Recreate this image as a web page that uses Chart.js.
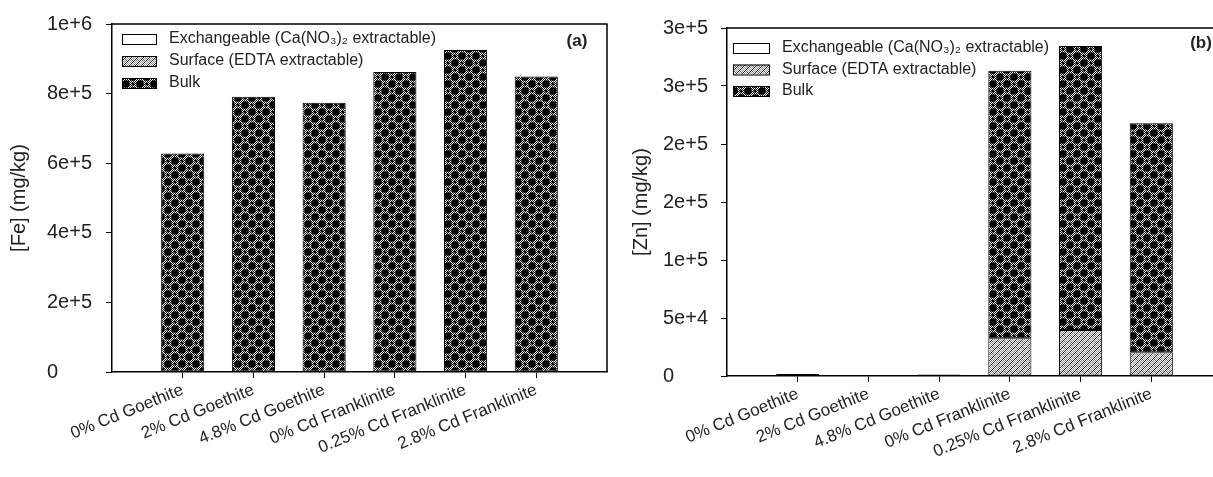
<!DOCTYPE html>
<html>
<head>
<meta charset="utf-8">
<script src="https://cdn.jsdelivr.net/npm/chart.js@4.4.1/dist/chart.umd.min.js"></script>
<style>
  html, body { margin: 0; padding: 0; background: #fff; overflow: hidden; }
  #wrap { position: relative; width: 1213px; height: 477px; overflow: hidden; }
  .panel { position: absolute; top: 0; }
  #panelA { left: 0; }
  #panelB { left: 615px; }
</style>
</head>
<body>
<div id="wrap">
  <div class="panel" id="panelA"><canvas id="chartFe" width="620" height="477"></canvas></div>
  <div class="panel" id="panelB"><canvas id="chartZn" width="620" height="477"></canvas></div>
</div>
<script>
// Categories and series
const categories = ['0% Cd Goethite', '2% Cd Goethite', '4.8% Cd Goethite',
  '0% Cd Franklinite', '0.25% Cd Franklinite', '2.8% Cd Franklinite'];
const seriesNames = ['Exchangeable (Ca(NO₃)₂ extractable)', 'Surface (EDTA extractable)', 'Bulk'];

// [Fe] (mg/kg)
const feExchangeable = [0, 0, 0, 0, 0, 0];
const feSurface = [0, 0, 0, 0, 0, 0];
const feBulk = [628000, 791000, 774000, 862000, 925000, 849000];
const feTicks = [0, 200000, 400000, 600000, 800000, 1000000];

// [Zn] (mg/kg)
const znExchangeable = [0, 0, 0, 0, 0, 0];
const znSurface = [0, 0, 0, 32500, 39700, 20400];
const znBulk = [1800, 0, 1300, 230700, 244800, 197400];
const znTicks = [0, 50000, 100000, 150000, 200000, 250000, 300000];

const FONT = '"Liberation Sans", Arial, sans-serif';

// Fill patterns (SigmaPlot style)
function checker(g, w, h, light, dark) {
  for (let y = 0; y < h; y++) {
    for (let x = 0; x < w; x++) {
      g.fillStyle = (x + y) % 2 ? light : dark;
      g.fillRect(x, y, 1, 1);
    }
  }
}

function makeBulkPattern() {
  const c = document.createElement('canvas');
  c.width = 14; c.height = 14;
  const g = c.getContext('2d');
  checker(g, 14, 14, '#ffffff', '#111111');
  g.fillStyle = '#000';
  [[0, 0], [14, 0], [0, 14], [14, 14], [7, 7]].forEach(p => {
    g.beginPath(); g.arc(p[0], p[1], 3.8, 0, Math.PI * 2); g.fill();
  });
  [[7, 0], [0, 7], [14, 7], [7, 14]].forEach(p => {
    g.beginPath(); g.arc(p[0], p[1], 1.5, 0, Math.PI * 2); g.fill();
  });
  return g.createPattern(c, 'repeat');
}

function makeSurfacePattern() {
  const c = document.createElement('canvas');
  c.width = 6; c.height = 6;
  const g = c.getContext('2d');
  checker(g, 6, 6, '#ffffff', '#222222');
  g.strokeStyle = '#ffffff';
  g.lineWidth = 1.4;
  [-6, 0, 6].forEach(o => {
    g.beginPath(); g.moveTo(o, 6); g.lineTo(o + 6, 0); g.stroke();
  });
  return g.createPattern(c, 'repeat');
}

const fills = ['#ffffff', makeSurfacePattern(), makeBulkPattern()];

// Frame, y title, legend and panel tag
const decor = {
  id: 'decor',
  afterDraw(chart, args, opts) {
    const ctx = chart.ctx;
    const a = chart.chartArea;
    ctx.save();
    ctx.strokeStyle = '#000';
    ctx.lineWidth = 1.5;
    ctx.beginPath();
    ctx.moveTo(a.left, a.top);
    ctx.lineTo(a.right, a.top);
    ctx.lineTo(a.right, a.bottom);
    ctx.stroke();

    // y axis title
    ctx.save();
    ctx.translate(opts.titleX, (a.top + a.bottom) / 2);
    ctx.rotate(-Math.PI / 2);
    ctx.font = '20px ' + FONT;
    ctx.fillStyle = '#222';
    ctx.textAlign = 'center';
    ctx.textBaseline = 'middle';
    ctx.fillText(opts.title, 0, 0);
    ctx.restore();

    // legend
    ctx.font = '16px ' + FONT;
    ctx.textBaseline = 'middle';
    ctx.textAlign = 'left';
    chart.data.datasets.forEach((ds, i) => {
      const y = opts.legendY + i * opts.legendStep;
      ctx.fillStyle = ds.backgroundColor;
      ctx.fillRect(opts.legendX, y - 5, opts.swatchW, 10);
      ctx.lineWidth = 1;
      ctx.strokeStyle = '#000';
      ctx.strokeRect(opts.legendX + 0.5, y - 4.5, opts.swatchW, 10);
      ctx.fillStyle = '#222';
      ctx.fillText(ds.label, opts.legendX + opts.swatchW + 13, y);
    });

    ctx.font = 'bold 17px ' + FONT;
    ctx.textAlign = 'center';
    ctx.fillStyle = '#222';
    ctx.fillText(opts.tag, opts.tagX, opts.tagY);
    ctx.restore();
  }
};

function buildChart(canvasId, values, ticks, top, bottom, decorOpts) {
  const labels = [''].concat(categories, ['']);
  const datasets = values.map((vals, i) => ({
    label: seriesNames[i],
    data: [null].concat(vals, [null]),
    backgroundColor: fills[i],
    borderColor: '#000',
    borderWidth: 1,
    borderSkipped: false,
    categoryPercentage: 1,
    barPercentage: 0.61
  }));

  return new Chart(document.getElementById(canvasId), {
    type: 'bar',
    data: { labels: labels, datasets: datasets },
    plugins: [decor],
    options: {
      responsive: false,
      animation: false,
      layout: { padding: { top: top, right: 13, left: decorOpts.labelLeft, bottom: 0 } },
      plugins: {
        legend: { display: false },
        tooltip: { enabled: false },
        decor: decorOpts
      },
      scales: {
        x: {
          stacked: true,
          offset: false,
          afterFit: s => { s.height = 477 - bottom; },
          border: { display: true, color: '#000', width: 1.5 },
          grid: {
            offset: false,
            drawOnChartArea: false,
            drawTicks: true,
            tickLength: 6,
            color: c => (c.index === 0 || c.index === labels.length - 1) ? 'rgba(0,0,0,0)' : '#000'
          },
          ticks: {
            autoSkip: false,
            maxRotation: 22,
            minRotation: 22,
            padding: 2,
            color: '#222',
            font: { family: FONT, size: 17 }
          }
        },
        y: {
          stacked: true,
          min: ticks[0],
          max: ticks[ticks.length - 1],
          afterFit: s => { s.width = 112 - decorOpts.labelLeft; },
          afterBuildTicks: s => { s.ticks = ticks.map(v => ({ value: v })); },
          border: { display: true, color: '#000', width: 1.5 },
          grid: {
            drawOnChartArea: false,
            drawTicks: true,
            tickLength: 6,
            color: '#000'
          },
          ticks: {
            crossAlign: 'far',
            padding: 10,
            color: '#222',
            font: { family: FONT, size: 20 },
            callback: v => v === 0 ? '0' : Number(v).toExponential(0)
          }
        }
      }
    }
  });
}

buildChart('chartFe', [feExchangeable, feSurface, feBulk], feTicks, 24, 372,
  { labelLeft: 47, title: '[Fe] (mg/kg)', titleX: 19,
    legendX: 122, legendY: 39, legendStep: 22, swatchW: 34, tag: '(a)', tagX: 577, tagY: 41 });

buildChart('chartZn', [znExchangeable, znSurface, znBulk], znTicks, 28, 376,
  { labelLeft: 48, title: '[Zn] (mg/kg)', titleX: 26,
    legendX: 118, legendY: 48, legendStep: 21.5, swatchW: 36, tag: '(b)', tagX: 586, tagY: 43 });
</script>
</body>
</html>
